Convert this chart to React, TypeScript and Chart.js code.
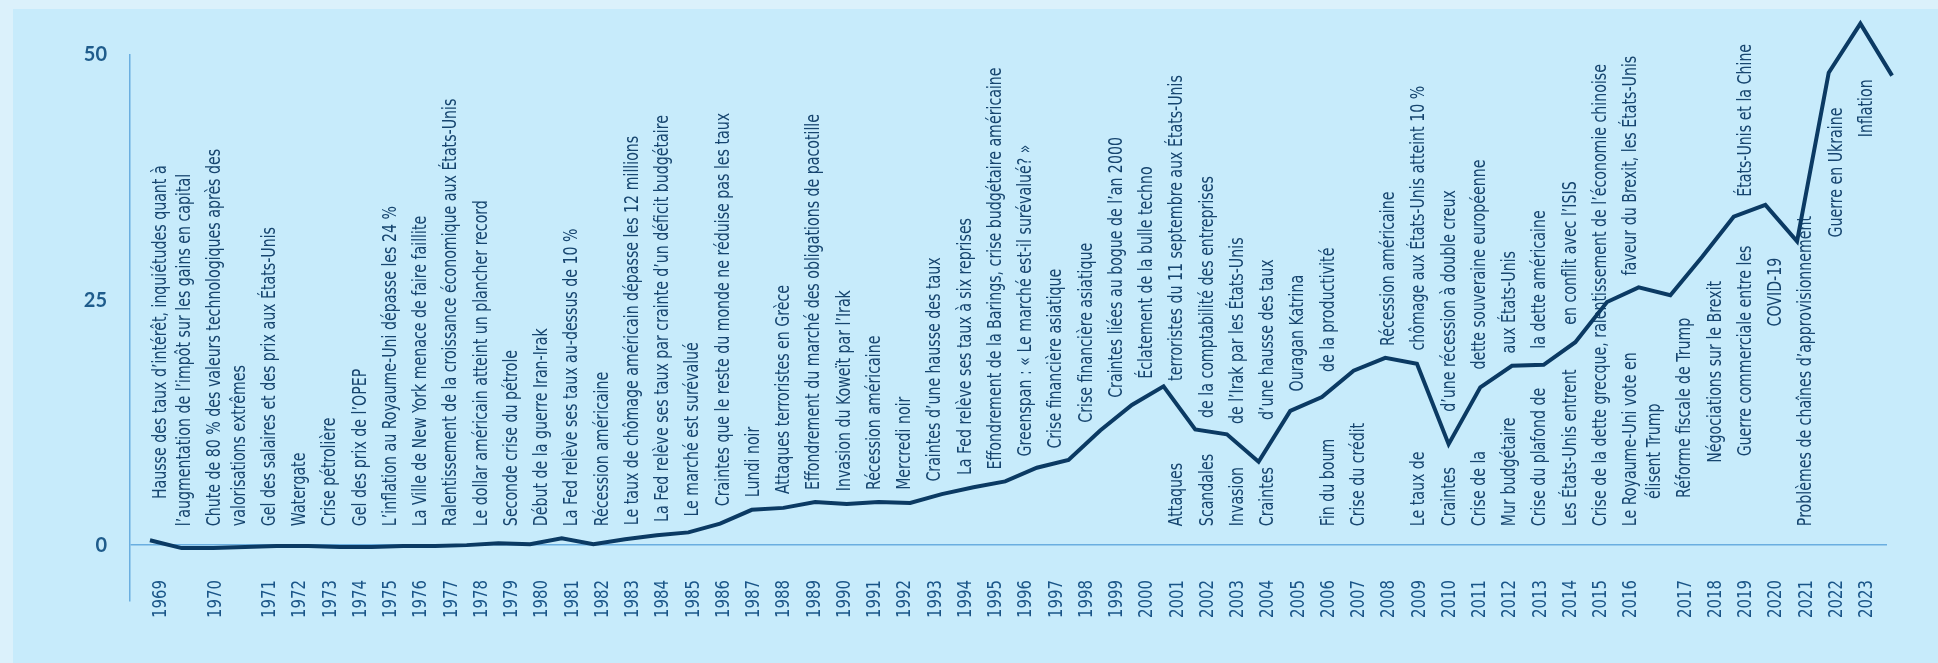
import React, { useEffect, useRef } from 'react';
import { Chart, registerables } from 'chart.js';

Chart.register(...registerables);

// ---------- DATA ----------
const yTickValues = [0, 25, 50];

// one value per year, 1969 ... 2024
const lineValues = [
  0.5, -0.3, -0.3, -0.2, -0.1, -0.1, -0.2, -0.2, -0.1, -0.1,
  0.0, 0.2, 0.1, 0.7, 0.1, 0.6, 1.0, 1.3, 2.2, 3.6,
  3.8, 4.4, 4.2, 4.4, 4.3, 5.2, 5.9, 6.5, 7.9, 8.7,
  11.7, 14.3, 16.2, 11.8, 11.3, 8.5, 13.7, 15.1, 17.8, 19.1,
  18.5, 10.3, 16.1, 18.3, 18.4, 20.7, 24.8, 26.3, 25.5, 29.4,
  33.5, 34.7, 31.0, 48.2, 53.2, 47.9,
];

const annotationYears = [
  '1969', '1970', '1971', '1972', '1973', '1974', '1975', '1976', '1977', '1978',
  '1979', '1980', '1981', '1982', '1983', '1984', '1985', '1986', '1987', '1988',
  '1989', '1990', '1991', '1992', '1993', '1994', '1995', '1996', '1997', '1998',
  '1999', '2000', '2001', '2002', '2003', '2004', '2005', '2006', '2007', '2008',
  '2009', '2010', '2011', '2012', '2013', '2014', '2015', '2016', '2017', '2018',
  '2019', '2020', '2021', '2022', '2023',
];

// "|" splits a text into the part under the curve and the part above it
const annotationTexts: string[][] = [
  ['      Hausse des taux d’intérêt, inquiétudes quant à', 'l’augmentation de l’impôt sur les gains en capital'],
  ['Chute de 80 % des valeurs technologiques après des', 'valorisations extrêmes'],
  ['Gel des salaires et des prix aux États-Unis'],
  ['Watergate'],
  ['Crise pétrolière'],
  ['Gel des prix de l’OPEP'],
  ['L’inflation au Royaume-Uni dépasse les 24 %'],
  ['La Ville de New York menace de faire faillite'],
  ['Ralentissement de la croissance économique aux États-Unis'],
  ['Le dollar américain atteint un plancher record'],
  ['Seconde crise du pétrole'],
  ['Début de la guerre Iran-Irak'],
  ['La Fed relève ses taux au-dessus de 10 %'],
  ['Récession américaine'],
  ['Le taux de chômage américain dépasse les 12 millions'],
  ['La Fed relève ses taux par crainte d’un déficit budgétaire'],
  ['Le marché est surévalué'],
  ['Craintes que le reste du monde ne réduise pas les taux'],
  ['Lundi noir'],
  ['Attaques terroristes en Grèce'],
  ['Effondrement du marché des obligations de pacotille'],
  ['Invasion du Koweït par l’Irak'],
  ['Récession américaine'],
  ['Mercredi noir'],
  ['Craintes d’une hausse des taux'],
  ['La Fed relève ses taux à six reprises'],
  ['Effondrement de la Barings, crise budgétaire américaine'],
  ['Greenspan : « Le marché est-il surévalué? »'],
  ['Crise financière asiatique'],
  ['Crise financière asiatique'],
  ['Craintes liées au bogue de l’an 2000'],
  ['Éclatement de la bulle techno'],
  ['Attaques|terroristes du 11 septembre aux États-Unis'],
  ['Scandales|de la comptabilité des entreprises'],
  ['Invasion|de l’Irak par les États-Unis'],
  ['Craintes|d’une hausse des taux'],
  ['Ouragan Katrina'],
  ['Fin du boum|de la productivité'],
  ['Crise du crédit'],
  ['Récession américaine'],
  ['Le taux de|chômage aux États-Unis atteint 10 %'],
  ['Craintes|d’une récession à double creux'],
  ['Crise de la|dette souveraine européenne'],
  ['Mur budgétaire|aux États-Unis'],
  ['Crise du plafond de|la dette américaine'],
  ['Les États-Unis entrent|en conflit avec l’ISIS'],
  ['Crise de la dette grecque, ralentissement de l’économie chinoise'],
  ['Le Royaume-Uni vote en|faveur du Brexit, les États-Unis', '      élisent Trump'],
  ['Réforme fiscale de Trump'],
  ['Négociations sur le Brexit'],
  ['Guerre commerciale entre les|États-Unis et la Chine'],
  ['COVID-19'],
  ['Problèmes de chaînes d’approvisionnement'],
  ['Guerre en Ukraine'],
  ['Inflation'],
];

// texts that start from the bottom, under the curve
const belowCurveYears = [
  '2001', '2002', '2003', '2004', '2006', '2007', '2009', '2010', '2011',
  '2012', '2013', '2014', '2015', '2016', '2021',
];
// texts that hang just below the curve
const hangingYears = ['2017', '2018', '2019', '2020', '2022', '2023'];

// ---------- STYLE ----------
const OUTER_BG = '#dbf1fb';
const INNER_BG = '#c7ebfb';
const LINE_COLOR = '#0b3a63';
const AXIS_COLOR = '#6aaee0';
const TEXT_COLOR = '#16456f';
const YEAR_COLOR = '#1a5588';
const TICK_COLOR = '#1f5c8c';
const TEXT_SIZE = 19;
const YEAR_SIZE = 20;
const REF_STRING = 'Effondrement de la Barings, crise budgétaire américaine';
const REF_LENGTH = 402;

function pickFont(): string {
  const c = document.createElement('canvas').getContext('2d');
  if (!c) return 'Arial';
  const probe = 'abcdefghijklmnopqrstuvwxyz ABCDEFGHIJKLM 0123456789';
  const candidates = ['Liberation Sans Narrow', 'DejaVu Sans Condensed', 'Roboto'];
  for (const f of candidates) {
    c.font = '20px monospace';
    const w0 = c.measureText(probe).width;
    c.font = `20px "${f}", monospace`;
    const w1 = c.measureText(probe).width;
    if (Math.abs(w1 - w0) > 0.5) return f;
  }
  return 'Arial';
}

export default function App() {
  const canvasRef = useRef<HTMLCanvasElement | null>(null);

  useEffect(() => {
    document.body.style.margin = '0';
    const canvas = canvasRef.current;
    if (!canvas) return;

    const family = pickFont();
    const mctx = canvas.getContext('2d')!;
    mctx.font = `${TEXT_SIZE}px "${family}"`;
    const squeeze = REF_LENGTH / mctx.measureText(REF_STRING).width;

    // text columns: multi-line entries take extra, narrower columns
    const columns: { year: string; slot: number; text: string; first: boolean }[] = [];
    let cursor = 0;
    annotationYears.forEach((year, i) => {
      const lines = annotationTexts[i];
      lines.forEach((t, j) => columns.push({ year, slot: cursor + j * 0.8, text: t, first: j === 0 }));
      cursor += 1 + 0.8 * (lines.length - 1);
    });

    const annotationPlugin = {
      id: 'annotations',
      beforeDatasetsDraw(chart: any) {
        const ctx = chart.ctx as CanvasRenderingContext2D;
        const xs = chart.scales.xs;
        const ys = chart.scales.y;
        const pts = chart.getDatasetMeta(0).data.map((p: any) => ({ x: p.x, y: p.y }));
        const lineAt = (px: number) => {
          if (px <= pts[0].x) return pts[0].y;
          for (let i = 0; i < pts.length - 1; i++) {
            const a = pts[i], b = pts[i + 1];
            if (px >= a.x && px <= b.x) return a.y + ((px - a.x) / (b.x - a.x)) * (b.y - a.y);
          }
          return pts[pts.length - 1].y;
        };
        const span = (px: number) => {
          let mn = Infinity, mx = -Infinity;
          for (let d = -9; d <= 9; d++) {
            const v = lineAt(px + d);
            mn = Math.min(mn, v);
            mx = Math.max(mx, v);
          }
          return { mn, mx };
        };
        const zeroY = ys.getPixelForValue(0);
        const baseY = zeroY - 19;
        const yearY = zeroY + 35;
        const aboveGap = 12;
        const hangGap = 30;

        const drawRot = (text: string, x: number, y: number, align: CanvasTextAlign, size: number, color: string) => {
          ctx.save();
          ctx.translate(x, y);
          ctx.rotate(-Math.PI / 2);
          ctx.scale(squeeze, 1);
          ctx.font = `${size}px "${family}"`;
          ctx.fillStyle = color;
          ctx.textAlign = align;
          ctx.textBaseline = 'middle';
          ctx.fillText(text, 0, 0);
          ctx.restore();
        };

        columns.forEach((col) => {
          const x = xs.getPixelForValue(col.slot);
          const { mn, mx } = span(x);
          const parts = col.text.split('|');
          const lower = parts[0];
          const mode = hangingYears.includes(col.year)
            ? 'hang'
            : belowCurveYears.includes(col.year)
              ? 'base'
              : 'above';
          if (parts.length > 1 || mode !== 'above') {
            if (mode === 'hang') {
              drawRot(lower, x, mx + hangGap, 'right', TEXT_SIZE, TEXT_COLOR);
            } else {
              drawRot(lower, x, baseY, 'left', TEXT_SIZE, TEXT_COLOR);
            }
            if (parts.length > 1) {
              drawRot(parts[1], x, mn - aboveGap, 'left', TEXT_SIZE, TEXT_COLOR);
            }
          } else {
            const start = Math.min(baseY, mn - aboveGap);
            drawRot(lower, x, start, 'left', TEXT_SIZE, TEXT_COLOR);
          }
          if (col.first) drawRot(col.year, x, yearY, 'right', YEAR_SIZE, YEAR_COLOR);
        });
      },
    };

    const chart = new Chart(canvas, {
      type: 'line',
      data: {
        datasets: [
          {
            data: lineValues.map((v, i) => ({ x: i, y: v })),
            borderColor: LINE_COLOR,
            borderWidth: 4,
            pointRadius: 0,
            tension: 0,
            clip: false as any,
            borderJoinStyle: 'miter',
            xAxisID: 'x',
            yAxisID: 'y',
          },
        ],
      },
      options: {
        animation: false,
        responsive: false,
        layout: { padding: { top: 55, right: 51, bottom: 62, left: 0 } },
        plugins: { legend: { display: false }, tooltip: { enabled: false } },
        scales: {
          x: { type: 'linear', min: -0.63, max: 54.84, display: false },
          xs: { type: 'linear', min: -1.025, max: 57.06, display: false },
          y: {
            type: 'linear',
            position: 'left',
            min: -5.7,
            max: 50,
            afterBuildTicks: (s: any) => {
              s.ticks = yTickValues.map((v) => ({ value: v }));
            },
            afterFit: (s: any) => {
              s.width = 130;
            },
            ticks: {
              padding: 23,
              color: TICK_COLOR,
              font: { family: 'Lato', weight: 'bold', size: 20 },
              callback: (v: any) => String(v),
            },
            grid: {
              drawTicks: false,
              lineWidth: 1.5,
              color: (c: any) => (c.tick && c.tick.value === 0 ? AXIS_COLOR : 'rgba(0,0,0,0)'),
            },
            border: { display: true, color: AXIS_COLOR, width: 1.5 },
          },
        },
      } as any,
      plugins: [annotationPlugin],
    });

    return () => chart.destroy();
  }, []);

  return (
    <div style={{ position: 'relative', width: 1938, height: 663, background: OUTER_BG, overflow: 'hidden' }}>
      <div style={{ position: 'absolute', left: 13, top: 9, right: 0, bottom: 0, background: INNER_BG }} />
      <canvas
        ref={canvasRef}
        width={1938}
        height={663}
        style={{ position: 'absolute', left: 0, top: 0, width: 1938, height: 663, display: 'block' }}
      />
    </div>
  );
}
